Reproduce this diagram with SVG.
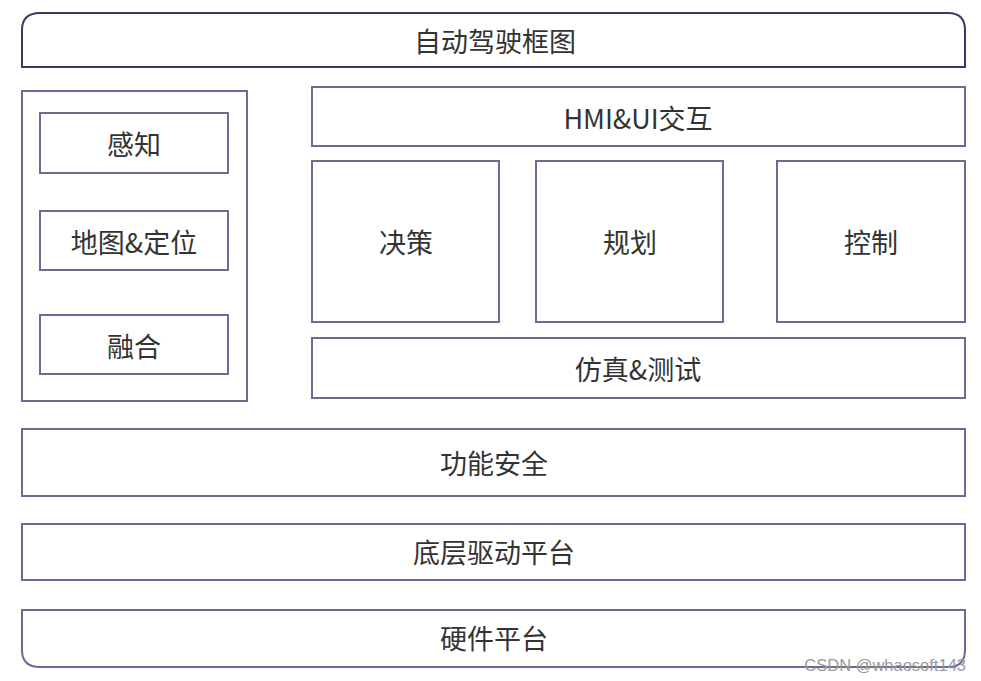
<svg xmlns="http://www.w3.org/2000/svg" width="981" height="681" viewBox="0 0 981 681">
<style>
.b{fill:#ffffff;stroke:#6b6b96;stroke-width:2}
.t{font-family:"Noto Sans CJK SC","Liberation Sans",sans-serif;font-size:27px;fill:#333333;text-anchor:middle;dominant-baseline:central}
.w{font-family:"Liberation Sans",sans-serif;font-size:16.5px;fill:#9a9a9a;text-anchor:end}
</style>
<rect width="981" height="681" fill="#ffffff"/>
<g id="top"><path class="b" d="M22,67 V30 Q22,13 40,13 H948 Q965,13 965,30 V67 Z" style="stroke:#3a3a66"/><text class="t" x="495" y="40">自动驾驶框图</text></g>
<g id="left-panel"><rect class="b" x="22" y="91" width="225" height="310"/></g>
<g id="perception"><rect class="b" x="40" y="113" width="188" height="60"/><text class="t" x="134" y="143">感知</text></g>
<g id="map"><rect class="b" x="40" y="211" width="188" height="59"/><text class="t" x="134" y="241">地图&amp;定位</text></g>
<g id="fusion"><rect class="b" x="40" y="315" width="188" height="59"/><text class="t" x="134" y="345">融合</text></g>
<g id="hmi"><rect class="b" x="312" y="87" width="653" height="59"/><text class="t" x="638" y="117">HMI&amp;UI交互</text></g>
<g id="decision"><rect class="b" x="312" y="161" width="187" height="161"/><text class="t" x="406" y="241">决策</text></g>
<g id="planning"><rect class="b" x="536" y="161" width="187" height="161"/><text class="t" x="630" y="241">规划</text></g>
<g id="control"><rect class="b" x="777" y="161" width="188" height="161"/><text class="t" x="871" y="241">控制</text></g>
<g id="sim"><rect class="b" x="312" y="338" width="653" height="60"/><text class="t" x="638" y="368">仿真&amp;测试</text></g>
<g id="safety"><rect class="b" x="22" y="429" width="943" height="67"/><text class="t" x="494" y="462">功能安全</text></g>
<g id="driver"><rect class="b" x="22" y="524" width="943" height="56"/><text class="t" x="494" y="551">底层驱动平台</text></g>
<g id="hardware"><path class="b" d="M22,610 H965 V650 Q965,667 948,667 H40 Q22,667 22,650 Z"/><text class="t" x="494" y="637">硬件平台</text></g>
<g id="connectors"></g>
<text class="w" x="966" y="671">CSDN @whaosoft143</text>
</svg>
